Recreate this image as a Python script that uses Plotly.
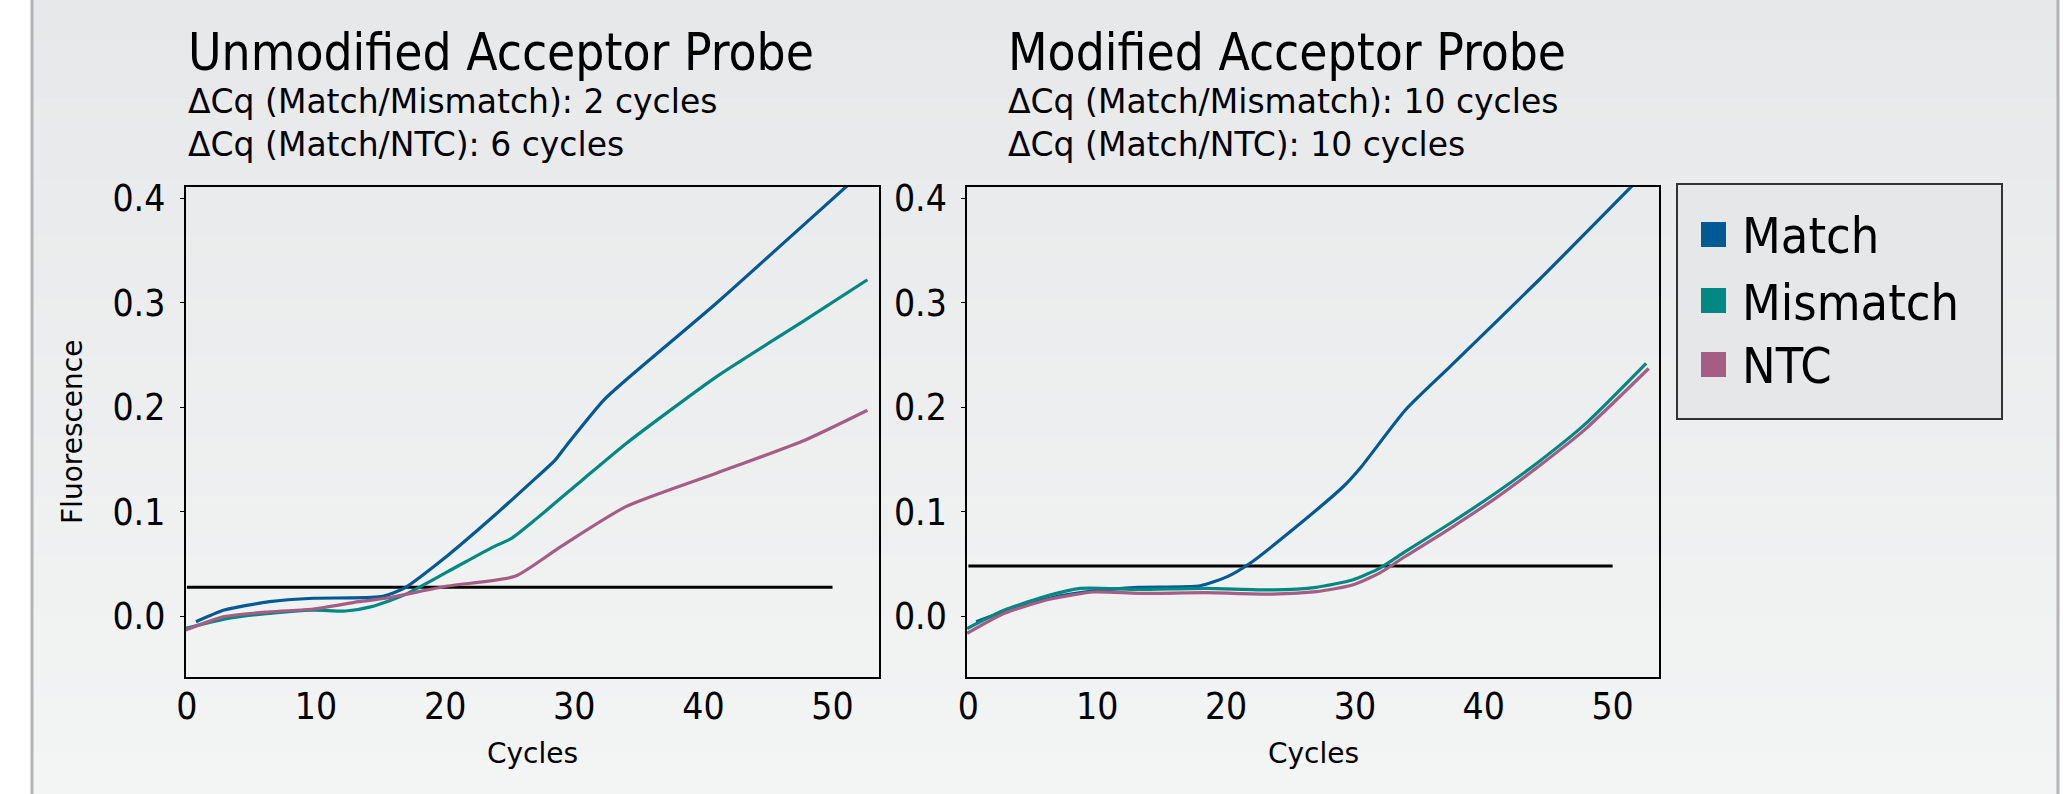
import plotly.graph_objects as go

W, H = 2063, 794

# ---------------- data ----------------
series_names = ["Match", "Mismatch", "NTC"]
series_colors = ["#005a94", "#008983", "#a55d84"]

# Unmodified acceptor probe (left)
unmod_match_x = [0.7, 2.9, 6.4, 9.8, 15.0, 16.8, 20.2, 23.7, 27.1, 28.5, 29.5, 32.3, 34.0, 41.0, 47.9, 51.5]
unmod_match_y = [-0.0055, 0.0057, 0.0137, 0.017, 0.0185, 0.0265, 0.058, 0.095, 0.133, 0.149, 0.165, 0.207, 0.226, 0.2995, 0.376, 0.416]
unmod_mis_x = [-0.1, 2.9, 6.4, 9.8, 12.3, 14.3, 16.8, 20.2, 23.7, 25.1, 27.1, 30.6, 34.0, 41.0, 47.9, 52.7]
unmod_mis_y = [-0.0118, -0.003, 0.0026, 0.0057, 0.0048, 0.009, 0.020, 0.0425, 0.066, 0.074, 0.0935, 0.130, 0.165, 0.229, 0.2835, 0.322]
unmod_ntc_x = [-0.1, 2.9, 6.4, 9.8, 13.3, 15.4, 20.2, 25.4, 28.9, 34.0, 41.0, 47.9, 52.7]
unmod_ntc_y = [-0.0134, -0.0006, 0.004, 0.0067, 0.0137, 0.017, 0.0287, 0.038, 0.066, 0.1047, 0.1367, 0.1686, 0.197]

# Modified acceptor probe (right)
mod_match_x = [0.6, 2.8, 6.3, 9.7, 13.2, 18.0, 20.1, 21.8, 25.3, 29.1, 30.5, 33.9, 37.4, 44.3, 51.6]
mod_match_y = [-0.0055, 0.004, 0.017, 0.024, 0.0275, 0.029, 0.0377, 0.050, 0.084, 0.124, 0.143, 0.197, 0.239, 0.322, 0.413]
mod_mis_x = [-0.1, 2.8, 6.3, 8.7, 13.2, 18.4, 23.6, 27.0, 29.8, 31.9, 33.9, 37.4, 40.9, 44.3, 47.8, 52.6]
mod_mis_y = [-0.012, 0.0057, 0.020, 0.0265, 0.0255, 0.0265, 0.025, 0.0275, 0.0345, 0.0457, 0.0616, 0.0888, 0.1175, 0.148, 0.183, 0.242]
mod_ntc_x = [-0.1, 2.8, 6.3, 9.7, 13.2, 18.4, 23.6, 27.0, 29.8, 31.9, 33.9, 37.4, 40.9, 44.3, 47.8, 52.8]
mod_ntc_y = [-0.0166, 0.0026, 0.016, 0.023, 0.0217, 0.0223, 0.021, 0.0233, 0.0297, 0.041, 0.057, 0.084, 0.1127, 0.1437, 0.178, 0.237]

threshold_x = [0, 50]
unmod_threshold = 0.0275
mod_threshold = 0.048

x_ticks = [0, 10, 20, 30, 40, 50]
y_ticks = [0.0, 0.1, 0.2, 0.3, 0.4]

titles = ["Unmodified Acceptor Probe", "Modified Acceptor Probe"]
subtitles = [
    ["ΔCq (Match/Mismatch): 2 cycles", "ΔCq (Match/NTC): 6 cycles"],
    ["ΔCq (Match/Mismatch): 10 cycles", "ΔCq (Match/NTC): 10 cycles"],
]
x_title = "Cycles"
y_title = "Fluorescence"

# ---------------- figure ----------------
def px(x):
    return x / W

def py(y):
    return 1 - y / H

fig = go.Figure()

panels = [
    ("x", "y", [(unmod_match_x, unmod_match_y), (unmod_mis_x, unmod_mis_y), (unmod_ntc_x, unmod_ntc_y)], unmod_threshold),
    ("x2", "y2", [(mod_match_x, mod_match_y), (mod_mis_x, mod_mis_y), (mod_ntc_x, mod_ntc_y)], mod_threshold),
]
for xa, ya, curves, thr in panels:
    fig.add_trace(go.Scatter(x=threshold_x, y=[thr, thr], mode="lines",
                             line=dict(color="black", width=3), xaxis=xa, yaxis=ya,
                             showlegend=False, hoverinfo="skip"))
    for i, (cx, cy) in enumerate(curves):
        fig.add_trace(go.Scatter(x=cx, y=cy, mode="lines", name=series_names[i],
                                 line=dict(color=series_colors[i], width=3.2, shape="spline", smoothing=0.6),
                                 xaxis=xa, yaxis=ya, showlegend=False))

shapes = []
# background panel with a soft vertical gradient
n_bands = 40
top = (231, 232, 233)
bot = (243, 244, 244)
for k in range(n_bands):
    t = k / (n_bands - 1)
    c = tuple(round(top[j] + (bot[j] - top[j]) * t) for j in range(3))
    shapes.append(dict(type="rect", xref="paper", yref="paper",
                       x0=px(32), x1=px(2058), y0=py(H * (k + 1) / n_bands + 0.5), y1=py(H * k / n_bands),
                       fillcolor="rgb(%d,%d,%d)" % c, line=dict(width=0), layer="below"))
for xb in (32, 2058):
    shapes.append(dict(type="line", xref="paper", yref="paper", x0=px(xb), x1=px(xb), y0=0, y1=1,
                       line=dict(color="#b3b3b8", width=3), layer="below"))

# legend box (drawn manually so the colour swatches are large squares)
shapes.append(dict(type="rect", xref="paper", yref="paper", x0=px(1677), x1=px(2002), y0=py(419), y1=py(184),
                   fillcolor="#e6e7e9", line=dict(color="#333333", width=2)))
annotations = []
leg_rows = [234.5, 300.5, 364.5]
for i, name in enumerate(series_names):
    yc = leg_rows[i]
    shapes.append(dict(type="rect", xref="paper", yref="paper", x0=px(1701), x1=px(1726),
                       y0=py(yc + 12.5), y1=py(yc - 12.5), fillcolor=series_colors[i], line=dict(width=0)))
    annotations.append(dict(text=name, xref="paper", yref="paper", x=px(1740), y=py(yc + 2),
                            xanchor="left", yanchor="middle", showarrow=False,
                            font=dict(family="DejaVu Sans Condensed, DejaVu Sans", size=50, color="black")))

# titles (one block per panel: title line + two subtitle lines)
title_x = [186, 1006]
for i in range(2):
    txt = ("<span style='font-size:51px;font-family:\"DejaVu Sans Condensed\", \"DejaVu Sans\"'>%s</span>"
           "<br>%s<br>%s" % (titles[i], subtitles[i][0], subtitles[i][1]))
    annotations.append(dict(text=txt, xref="paper", yref="paper", x=px(title_x[i]), y=py(21),
                            xanchor="left", yanchor="top", align="left", showarrow=False,
                            font=dict(family="DejaVu Sans", size=33, color="black")))

# axis titles
annotations.append(dict(text=y_title, xref="paper", yref="paper", x=px(72), y=py(432),
                        xanchor="center", yanchor="middle", textangle=-90, showarrow=False,
                        font=dict(family="DejaVu Sans", size=28, color="black")))
for xc in ((185.5 + 879) / 2, (967 + 1659) / 2):
    annotations.append(dict(text=x_title, xref="paper", yref="paper", x=px(xc), y=py(753),
                            xanchor="center", yanchor="middle", showarrow=False,
                            font=dict(family="DejaVu Sans", size=28, color="black")))

fig.update_layout(shapes=shapes, annotations=annotations)

tickfont = dict(family="DejaVu Sans Condensed, DejaVu Sans", size=37, color="black")
axis_common_x = dict(range=[-0.11, 53.6], tickvals=x_ticks, ticks="", showgrid=False, zeroline=False,
                     showline=True, mirror=True, linecolor="black", linewidth=1.5,
                     tickfont=tickfont, ticklabelstandoff=-4, automargin=False)
axis_common_y = dict(range=[-0.0584, 0.4108], tickvals=y_ticks, tickformat=".1f", ticks="outside", ticklen=4,
                     tickcolor="black", showgrid=False, zeroline=False,
                     showline=True, mirror=True, linecolor="black", linewidth=1.5,
                     tickfont=tickfont, ticklabelstandoff=7, automargin=False)

fig.update_layout(
    width=W, height=H,
    margin=dict(l=0, r=0, t=0, b=0),
    paper_bgcolor="white",
    plot_bgcolor="rgba(0,0,0,0)",
    showlegend=False,
    xaxis=dict(domain=[px(185.5), px(879)], anchor="y", **axis_common_x),
    yaxis=dict(domain=[py(677), py(187)], anchor="x", **axis_common_y),
    xaxis2=dict(domain=[px(967), px(1659)], anchor="y2", **axis_common_x),
    yaxis2=dict(domain=[py(677), py(187)], anchor="x2", **axis_common_y),
)

fig.write_html("out.html")
